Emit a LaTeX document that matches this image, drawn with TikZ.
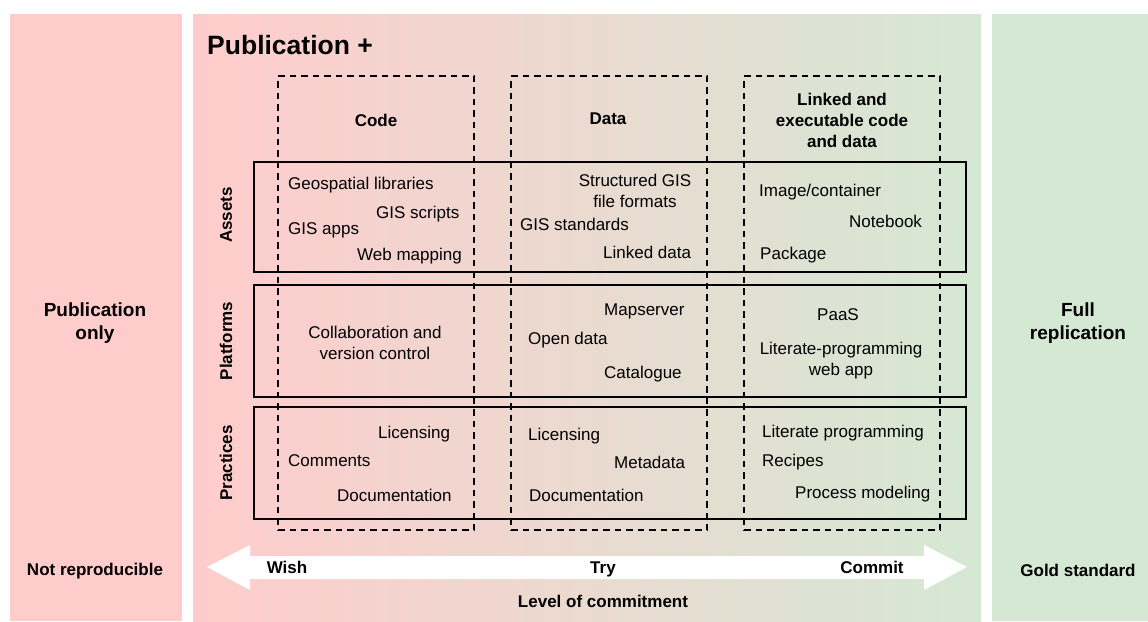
\documentclass[tikz,border=0pt]{standalone}
\usepackage{fontspec}
\setmainfont{Liberation Sans}
\usetikzlibrary{positioning}
\definecolor{pubpink}{HTML}{FFCCCC}
\definecolor{repgreen}{HTML}{D5E8D4}
\tikzset{
  item/.style={anchor=west, inner sep=0pt, text height=13.3pt, text depth=2.6pt, font=\fontsize{17}{21}\selectfont},
  bloque/.style={inner sep=0pt, align=center, font=\fontsize{17}{21}\selectfont},
  titulo/.style={inner sep=0pt, align=center, font=\fontsize{17}{21}\selectfont\bfseries},
  fijo/.style={text height=13.3pt, text depth=2.6pt},
  colbox/.style={draw, dash pattern=on 6.5pt off 5pt, line width=2.2pt, inner sep=0pt, minimum width=196, minimum height=454},
  rowbox/.style={draw, line width=2.2pt, inner sep=0pt, minimum width=712}
}
\begin{document}
\begin{tikzpicture}[x=1pt,y=-1pt]
  \useasboundingbox (0,0) rectangle (1148,621);

  % Dibujar los paneles de fondo
  \fill[pubpink] (10,14) rectangle (182,621);
  \shade[left color=pubpink, right color=repgreen] (193,14) rectangle (981,621);
  \fill[repgreen] (992,14) rectangle (1148,621);

  \node[anchor=west, inner sep=0pt, font=\fontsize{26.5}{30}\selectfont\bfseries] (pubplus) at (207,45) {Publication +};
  \node[titulo, font=\fontsize{19}{23}\selectfont\bfseries] (pubonly) at (95,323) {Publication\\only};
  \node[titulo, font=\fontsize{19}{23}\selectfont\bfseries] (fullrep) at (1078,323) {Full\\replication};
  \node[titulo, fijo] (notrep) at (95,570) {Not reproducible};
  \node[titulo, fijo] (gold) at (1078,571) {Gold standard};

  % Dibujar las columnas y filas
  \node[colbox] (code) at (376,303) {};
  \node[colbox] (data) at (609,303) {};
  \node[colbox] (linked) at (842,303) {};
  \node[rowbox, minimum height=110] (assets) at (610,217) {};
  \node[rowbox, minimum height=112] (platforms) at (610,341) {};
  \node[rowbox, minimum height=112] (practices) at (610,463) {};

  \node[titulo] (codehead) at (376,120) {Code};
  \node[titulo] (datahead) at (608,119) {Data};
  \node[titulo] (linkedhead) at (842,120) {Linked and\\executable code\\and data};

  \node[titulo, rotate=90] (assetslab) at (226,215) {Assets};
  \node[titulo, rotate=90] (platformslab) at (226,341) {Platforms};
  \node[titulo, rotate=90] (practiceslab) at (226,463) {Practices};

  % Assets
  \node[item] (geolib) at (288,184) {Geospatial libraries};
  \node[item] (gisscripts) at (376,213) {GIS scripts};
  \node[item] (gisapps) at (288,229) {GIS apps};
  \node[item] (webmap) at (357,255) {Web mapping};
  \node[bloque] (structgis) at (635,191) {Structured GIS\\file formats};
  \node[item] (gisstd) at (520,225) {GIS standards};
  \node[item] (linkeddata) at (603,253) {Linked data};
  \node[item] (image) at (759,191) {Image/container};
  \node[item] (notebook) at (849,222) {Notebook};
  \node[item] (package) at (760,254) {Package};

  % Platforms
  \node[bloque] (collab) at (375,343) {Collaboration and\\version control};
  \node[item] (mapserver) at (604,310) {Mapserver};
  \node[item] (opendata) at (528,339) {Open data};
  \node[item] (catalogue) at (604,373) {Catalogue};
  \node[item] (paas) at (817,315) {PaaS};
  \node[bloque] (litweb) at (841,361) {Literate-programming\\web app};

  % Practices
  \node[item] (licA) at (378,433) {Licensing};
  \node[item] (comments) at (288,461) {Comments};
  \node[item] (docA) at (337,496) {Documentation};
  \node[item] (licB) at (528,435) {Licensing};
  \node[item] (metadata) at (614,463) {Metadata};
  \node[item] (docB) at (529,496) {Documentation};
  \node[item] (litprog) at (762,432) {Literate programming};
  \node[item] (recipes) at (762,461) {Recipes};
  \node[item] (procmod) at (795,493) {Process modeling};

  % Dibujar la flecha doble
  \fill[white] (207,567) -- (250,545) -- (250,556) -- (924,556) -- (924,545) -- (967,567)
    -- (924,590) -- (924,579) -- (250,579) -- (250,590) -- cycle;
  \node[titulo, fijo] (wish) at (287,568) {Wish};
  \node[titulo, fijo] (try) at (603,568) {Try};
  \node[titulo, fijo] (commit) at (872,568) {Commit};
  \node[titulo, fijo] (level) at (603,602) {Level of commitment};
\end{tikzpicture}
\end{document}
